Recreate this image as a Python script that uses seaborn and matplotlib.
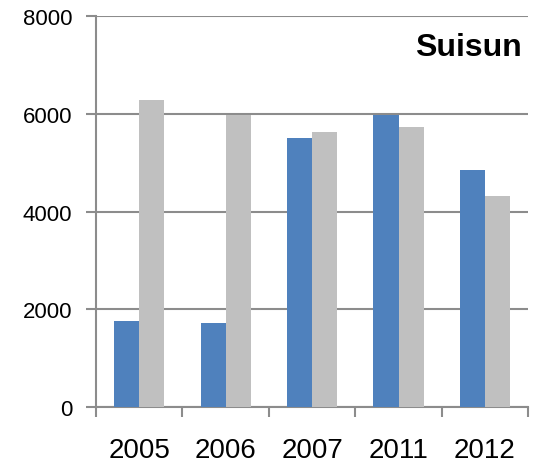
import pandas as pd
import matplotlib
matplotlib.use("Agg")
import matplotlib.pyplot as plt
import seaborn as sns
from matplotlib.ticker import FixedLocator

years = ["2005", "2006", "2007", "2011", "2012"]
series_a = [1760, 1725, 5500, 5970, 4850]
series_b = [6280, 5985, 5625, 5730, 4315]
series_names = ["A", "B"]
colors = ["#4F81BD", "#C0C0C0"]

df = pd.DataFrame({
    "year": years * 2,
    "value": series_a + series_b,
    "series": [series_names[0]] * len(years) + [series_names[1]] * len(years),
})

sns.set_style("white")
plt.rcParams["font.family"] = ["Liberation Sans", "DejaVu Sans"]
plt.rcParams["text.color"] = "black"
plt.rcParams["xtick.labelcolor"] = "black"
plt.rcParams["ytick.labelcolor"] = "black"

fig = plt.figure(figsize=(5.39, 4.64), dpi=100)
ax = fig.add_axes([0.178, 0.121, 0.802, 0.842])

sns.barplot(data=df, x="year", y="value", hue="series", palette=colors,
            width=0.58, saturation=1, legend=False, ax=ax, zorder=3,
            linewidth=0, edgecolor="none")

grid_col = "#8C8C8C"
ax.set_ylim(0, 8000)
ax.set_xlim(-0.5, len(years) - 0.5)
ax.set_yticks([0, 2000, 4000, 6000, 8000])
ax.yaxis.grid(True, color=grid_col, linewidth=1.5, zorder=0)
ax.set_axisbelow(True)

for side in ["top", "right"]:
    ax.spines[side].set_visible(False)
for side in ["left", "bottom"]:
    ax.spines[side].set_color(grid_col)
    ax.spines[side].set_linewidth(1.5)

ax.tick_params(axis="y", length=7, width=1.5, color=grid_col, pad=10,
               labelsize=16, left=True, labelcolor="black")
ax.xaxis.set_minor_locator(FixedLocator([i - 0.5 for i in range(len(years) + 1)]))
ax.tick_params(axis="x", which="major", length=0, pad=22, labelsize=20,
               labelcolor="black")
ax.tick_params(axis="x", which="minor", length=7, width=1.5, color=grid_col,
               bottom=True)

ax.set_xlabel("")
ax.set_ylabel("")
ax.text(0.985, 0.96, "Suisun", transform=ax.transAxes, ha="right", va="top",
        fontsize=23, fontweight="bold", color="black")

fig.savefig("out.png", dpi=100)
